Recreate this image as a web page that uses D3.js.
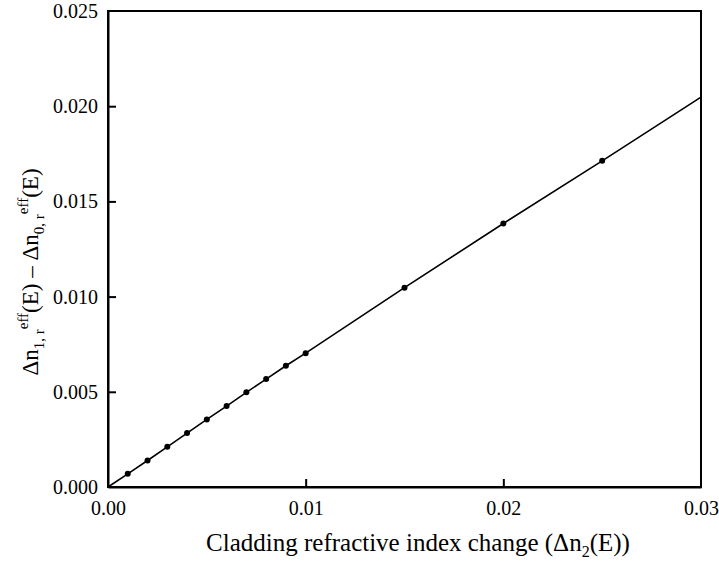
<!DOCTYPE html>
<html>
<head>
<meta charset="utf-8">
<script src="https://cdn.jsdelivr.net/npm/d3@7"></script>
<style>
  body { margin: 0; background: #fff; }
  svg text { font-family: "Times New Roman", "Liberation Serif", "DejaVu Serif", serif !important; fill: #000; }
</style>
</head>
<body>
<div id="chart"></div>
<script>
// cladding index change vs effective index difference
const xValues = [0.001, 0.002, 0.003, 0.004, 0.005, 0.006, 0.007, 0.008, 0.009, 0.010, 0.015, 0.020, 0.025];
const yValues = [0.00069, 0.00139, 0.00211, 0.00283, 0.00355, 0.00425, 0.00497, 0.00567, 0.00637, 0.00703, 0.01047, 0.01384, 0.01713];
// line runs from the origin through the points to the edge
const lineX = [0, ...xValues, 0.030];
const lineY = [0, ...yValues, 0.02048];
const xTicks = [0.00, 0.01, 0.02, 0.03];
const yTicks = [0.000, 0.005, 0.010, 0.015, 0.020, 0.025];

const width = 719, height = 565;
const margin = { top: 11, right: 18, bottom: 78, left: 108 };
const serif = '"Times New Roman", "Liberation Serif", serif';

const svg = d3.select('#chart').append('svg')
    .attr('width', width)
    .attr('height', height);

const x = d3.scaleLinear().domain([0, 0.03]).range([margin.left, width - margin.right]);
const y = d3.scaleLinear().domain([0, 0.025]).range([height - margin.bottom, margin.top]);

// frame
svg.append('rect')
    .attr('x', x(0)).attr('y', y(0.025))
    .attr('width', x(0.03) - x(0)).attr('height', y(0) - y(0.025))
    .attr('fill', 'none').attr('stroke', '#000').attr('stroke-width', 2);

// axes with inward ticks
const xAxis = svg.append('g')
    .attr('transform', `translate(0,${y(0)})`)
    .call(d3.axisBottom(x).tickValues(xTicks).tickFormat(d3.format('.2f')).tickSizeInner(-8).tickSizeOuter(0).tickPadding(14));
const yAxis = svg.append('g')
    .attr('transform', `translate(${x(0)},0)`)
    .call(d3.axisLeft(y).tickValues(yTicks).tickFormat(d3.format('.3f')).tickSizeInner(-8).tickSizeOuter(0).tickPadding(10));

[xAxis, yAxis].forEach(a => {
    a.attr('font-family', serif);
    a.select('.domain').attr('stroke', '#000').attr('stroke-width', 2);
    a.selectAll('.tick line').attr('stroke', '#000').attr('stroke-width', 2);
    a.selectAll('.tick text').attr('font-size', 20);
});
// no tick marks at the corners
xAxis.selectAll('.tick line').filter(d => d === 0 || d === 0.03).remove();
yAxis.selectAll('.tick line').filter(d => d === 0 || d === 0.025).remove();

// line
const line = d3.line().x(d => x(d[0])).y(d => y(d[1]));
svg.append('path')
    .datum(lineX.map((v, i) => [v, lineY[i]]))
    .attr('d', line)
    .attr('fill', 'none')
    .attr('stroke', '#000')
    .attr('stroke-width', 1.6);

// markers
svg.append('g').selectAll('circle')
    .data(xValues.map((v, i) => [v, yValues[i]]))
    .enter().append('circle')
    .attr('cx', d => x(d[0]))
    .attr('cy', d => y(d[1]))
    .attr('r', 3)
    .attr('fill', '#000');

// x title
const xt = svg.append('text')
    .attr('x', 418)
    .attr('y', 551)
    .attr('text-anchor', 'middle')
    .attr('font-size', 25);
xt.append('tspan').text('Cladding refractive index change (\u0394n');
xt.append('tspan').attr('font-size', 16).attr('dy', 6).text('2');
xt.append('tspan').attr('dy', -6).text('(E))');

// y title
const yt = svg.append('text')
    .attr('transform', `translate(38,272) rotate(-90)`)
    .attr('text-anchor', 'middle')
    .attr('font-size', 23);
yt.append('tspan').text('\u0394n');
yt.append('tspan').attr('font-size', 15).attr('dy', 6).text('1, r');
yt.append('tspan').attr('font-size', 15).attr('dy', -16).text('eff');
yt.append('tspan').attr('dy', 10).text('(E) \u2013 \u0394n');
yt.append('tspan').attr('font-size', 15).attr('dy', 6).text('0, r');
yt.append('tspan').attr('font-size', 15).attr('dy', -16).text('eff');
yt.append('tspan').attr('dy', 10).text('(E)');
</script>
</body>
</html>
